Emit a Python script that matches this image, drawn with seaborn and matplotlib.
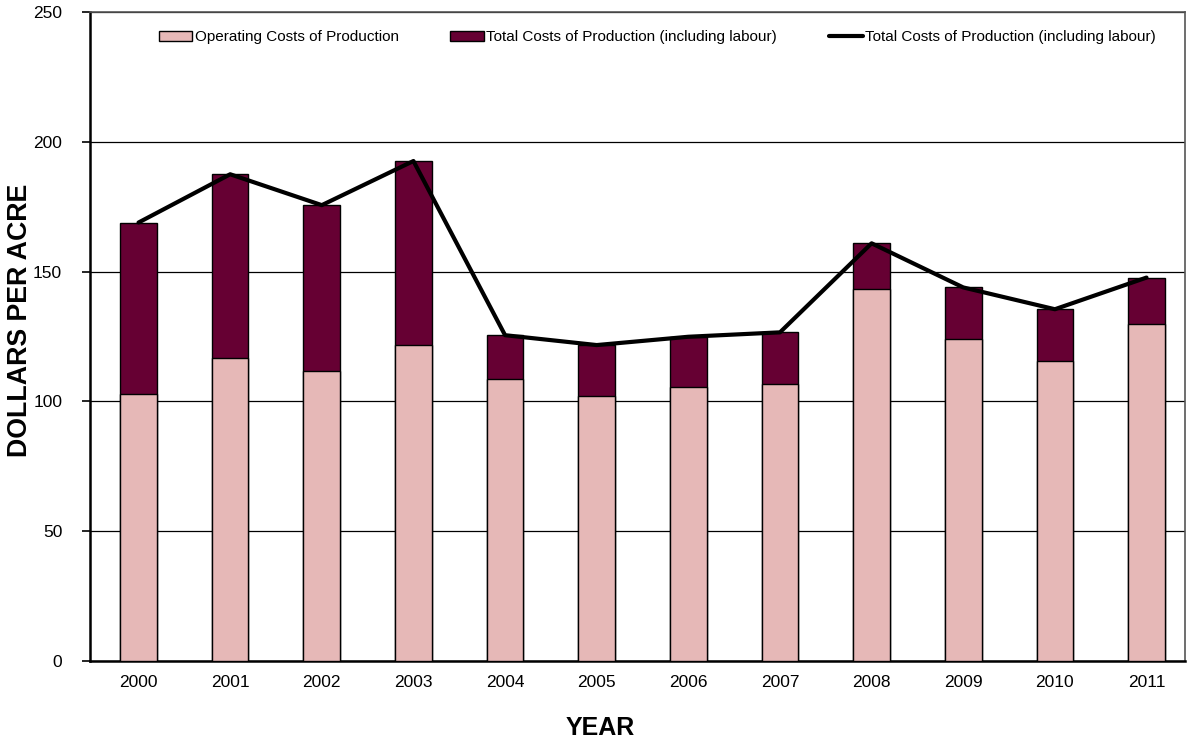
import matplotlib
matplotlib.use("Agg")
import matplotlib.pyplot as plt
from matplotlib.patches import Patch
from matplotlib.lines import Line2D
import seaborn as sns
import pandas as pd

# values (dollars per acre)
years = ["2000", "2001", "2002", "2003", "2004", "2005",
         "2006", "2007", "2008", "2009", "2010", "2011"]
operating = [102.7, 116.8, 111.7, 121.7, 108.5, 102.0,
             105.7, 106.8, 143.4, 123.9, 115.4, 129.7]
total = [168.9, 187.5, 175.6, 192.6, 125.5, 121.7,
         124.9, 126.6, 160.9, 143.9, 135.5, 147.7]

df = pd.DataFrame({"Year": years, "Operating": operating, "Total": total})

sns.set_style("white")
plt.rcParams["font.family"] = ["Liberation Sans", "DejaVu Sans"]
plt.rcParams["text.color"] = "black"
plt.rcParams["xtick.color"] = "black"
plt.rcParams["ytick.color"] = "black"
plt.rcParams["axes.labelcolor"] = "black"

pink = "#E6B8B7"
maroon = "#660033"

fig = plt.figure(figsize=(11.9, 7.42), dpi=100)
ax = fig.add_axes([0.0756, 0.1092, 0.9202, 0.8746])

# total bar underneath, operating costs drawn over its lower part
sns.barplot(data=df, x="Year", y="Total", color=maroon, width=0.4,
            edgecolor="black", linewidth=1, saturation=1, ax=ax, zorder=2)
sns.barplot(data=df, x="Year", y="Operating", color=pink, width=0.4,
            edgecolor="black", linewidth=1, saturation=1, ax=ax, zorder=3)
sns.lineplot(data=df, x="Year", y="Total", color="black", linewidth=3,
             sort=False, ax=ax, zorder=4)

ax.set_ylim(0, 250)
ax.set_xlim(-0.53, len(years) - 0.58)
ax.set_yticks(range(0, 251, 50))
ax.yaxis.grid(True, color="black", linewidth=0.9)
ax.set_axisbelow(True)

# tick marks between categories, labels centred
ax.set_xticks(range(len(years)))
ax.set_xticklabels(years)
ax.set_xticks([i - 0.5 for i in range(len(years))], minor=True)
ax.tick_params(axis="x", which="major", length=0, pad=10, labelsize=12.5)
ax.tick_params(axis="x", which="minor", length=5, width=1.2, direction="out",
               color="black")
ax.tick_params(axis="y", length=6, width=1.2, direction="out", color="black",
               labelsize=12.5, left=True, pad=14)

for side in ["left", "bottom"]:
    ax.spines[side].set_color("black")
    ax.spines[side].set_linewidth(1.8)
for side in ["top", "right"]:
    ax.spines[side].set_color("#555555")
    ax.spines[side].set_linewidth(1.2)

ax.set_xlabel("YEAR", fontsize=18, fontweight="bold")
ax.xaxis.set_label_coords(0.466, -0.085)
ax.set_ylabel("DOLLARS PER ACRE", fontsize=19.3, fontweight="bold")
ax.yaxis.set_label_coords(-0.052, 0.525)

handles = [
    Patch(facecolor=pink, edgecolor="black"),
    Patch(facecolor=maroon, edgecolor="black"),
    Line2D([0], [0], color="black", linewidth=3),
]
labels = [
    "Operating Costs of Production",
    "Total Costs of Production (including labour)",
    "Total Costs of Production (including labour)",
]
ax.legend(handles, labels, loc="center", bbox_to_anchor=(0.518, 0.961),
          ncol=3, frameon=False, fontsize=11, handlelength=2.2,
          handletextpad=0.15, columnspacing=3.4)

fig.savefig("out.png", dpi=100)
